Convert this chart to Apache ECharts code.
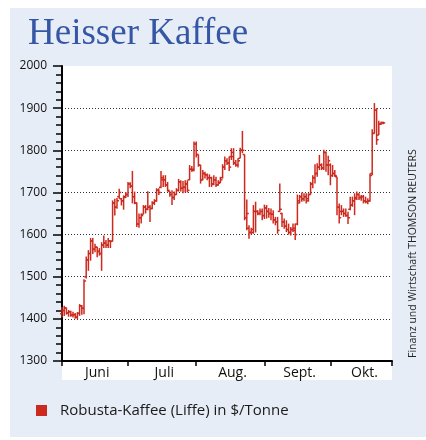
<!DOCTYPE html>
<html><head><meta charset="utf-8">
<script src="https://cdn.jsdelivr.net/npm/echarts@6/dist/echarts.min.js"></script>
<style>html,body{margin:0;padding:0;background:#fff}#c{width:426px;height:440px}</style>
</head><body><div id="c"></div>
<script>
// Day index 0 = 1 June; one bar per calendar day
var monthLabels = ['Juni','Juli','Aug.','Sept.','Okt.'];
var monthStarts = [0,30,61,92,122,150];
var monthMids = [16,46.5,77.5,108,137.5];
var yTicks = [1300,1400,1500,1600,1700,1800,1900,2000];

var openV = [1412,1420,1426,1414,1417,1409,1410,1404,1413,1431,1425,1500,1540,1555,1585,1565,1570,1560,1555,1575,1580,1575,1585,1584,1675,1665,1690,1685,1680,1690,1695,
1720,1715,1690,1675,1625,1640,1648,1665,1660,1665,1662,1675,1680,1705,1712,1730,1730,1718,1703,1695,1688,1695,1705,1725,1710,1712,1720,1730,1755,1755,
1815,1790,1765,1730,1745,1742,1735,1735,1720,1730,1718,1724,1735,1760,1775,1770,1785,1785,1770,1765,1781,1800,1790,1640,1615,1605,1605,1655,
1655,1650,1655,1645,1663,1655,1650,1648,1635,1630,1655,1650,1630,1620,1612,1605,1612,1610,1625,1680,1690,1685,1690,1685,1695,1720,1735,1745,1760,1765,1758,1795,
1765,1765,1740,1745,1737,1665,1655,1655,1650,1645,1660,1670,1680,1688,1695,1688,1690,1680,1678,1680,1745,1840,1895,1836,1862,1866];
var highV = [1428,1431,1427,1421,1419,1417,1414,1416,1435,1433,1494,1548,1563,1592,1592,1578,1571,1568,1582,1598,1587,1592,1586,1681,1685,1687,1709,1687,1693,1701,1725,
1724,1751,1702,1676,1650,1650,1670,1670,1703,1670,1679,1684,1710,1710,1751,1741,1741,1725,1703,1705,1702,1710,1732,1729,1727,1729,1729,1765,1763,1821,
1821,1790,1765,1753,1749,1745,1743,1737,1741,1737,1729,1737,1767,1785,1781,1785,1805,1805,1777,1781,1806,1846,1790,1683,1622,1616,1670,1678,
1658,1662,1662,1671,1670,1663,1662,1658,1642,1642,1721,1652,1638,1634,1626,1618,1626,1626,1695,1694,1700,1698,1698,1698,1725,1741,1767,1769,1789,1769,1801,1797,
1787,1769,1765,1753,1737,1674,1670,1662,1662,1654,1690,1690,1698,1702,1698,1694,1694,1690,1686,1745,1850,1912,1900,1870,1868,1868];
var lowV = [1403,1407,1410,1405,1405,1403,1400,1399,1407,1410,1411,1496,1514,1538,1554,1558,1546,1550,1514,1568,1568,1568,1568,1584,1645,1661,1685,1669,1659,1687,1689,
1710,1674,1672,1618,1616,1626,1648,1650,1658,1630,1660,1670,1678,1694,1710,1713,1713,1702,1690,1670,1682,1694,1702,1702,1698,1700,1700,1729,1749,1750,
1783,1761,1721,1729,1733,1729,1713,1713,1717,1713,1716,1722,1733,1753,1765,1751,1777,1765,1761,1759,1781,1793,1634,1610,1590,1600,1602,1605,
1646,1646,1634,1637,1638,1640,1634,1626,1622,1602,1654,1618,1614,1606,1600,1598,1606,1587,1622,1674,1678,1679,1674,1678,1695,1710,1721,1737,1753,1753,1753,1749,
1741,1717,1737,1737,1646,1626,1646,1642,1642,1625,1658,1666,1646,1682,1682,1680,1674,1674,1672,1678,1741,1840,1813,1836,1860,1862];
var closeV = [1420,1426,1414,1417,1409,1410,1404,1413,1431,1425,1490,1540,1555,1585,1565,1570,1560,1555,1575,1580,1575,1585,1584,1675,1665,1680,1700,1680,1688,1695,1720,
1715,1690,1675,1625,1640,1645,1665,1660,1665,1662,1675,1680,1705,1700,1735,1730,1718,1705,1695,1688,1695,1705,1725,1710,1712,1720,1705,1755,1752,1815,
1790,1765,1730,1745,1742,1735,1735,1720,1730,1718,1722,1730,1760,1775,1770,1760,1795,1770,1765,1775,1800,1800,1640,1650,1605,1612,1655,1655,
1650,1655,1645,1663,1655,1650,1648,1635,1630,1610,1660,1630,1620,1612,1605,1612,1615,1600,1675,1690,1685,1690,1680,1695,1720,1735,1745,1760,1765,1758,1795,1765,
1775,1740,1745,1740,1665,1640,1655,1650,1645,1640,1670,1680,1685,1695,1688,1690,1680,1678,1680,1740,1840,1895,1825,1862,1865,1865];

var seriesName = 'Robusta-Kaffee (Liffe) in $/Tonne';
var barColor = '#cc2a1f';
var data = openV.map(function(o,i){ return [i, o, highV[i], lowV[i], closeV[i]]; });

var labelByValue = {};
monthMids.forEach(function(v,i){ labelByValue[v] = monthLabels[i]; });

var sansFont = '"Open Sans", "Noto Sans", sans-serif';
var chart = echarts.init(document.getElementById('c'), null, {renderer:'canvas'});
chart.setOption({
  backgroundColor: '#ffffff',
  animation: false,
  title: {
    text: 'Heisser Kaffee', left: 23, top: 11,
    textStyle: {fontFamily: '"Liberation Serif", "DejaVu Serif", serif', fontSize: 37, fontWeight: 'normal', color: '#3456a4'}
  },
  legend: {
    left: 31, top: 398, icon: 'rect', itemWidth: 11, itemHeight: 11,
    data: [seriesName],
    textStyle: {fontFamily: sansFont, fontSize: 15, color: '#1a1a1a', padding: [0,0,0,8]}
  },
  graphic: [
    {type:'rect', z:-100, silent:true, shape:{x:10, y:8, width:416, height:429}, style:{fill:'#e7edf6'}},
    {type:'rect', z:-99, silent:true, shape:{x:62, y:66, width:330, height:314}, style:{fill:'#ffffff'}},
    {type:'text', x:413, y:358, rotation: Math.PI/2, silent:true,
     style:{text:'Finanz und Wirtschaft THOMSON REUTERS', fontFamily: sansFont, fontSize: 10.5, fill:'#222', align:'left', verticalAlign:'middle'}}
  ],
  grid: {left: 62, right: 34, top: 66, bottom: 79},
  xAxis: {
    type: 'value', min: 0, max: 150,
    axisLine: {show: true, onZero: false, lineStyle: {color: '#000', width: 2}},
    axisTick: {show: true, customValues: monthStarts, length: 5, lineStyle: {color: '#000', width: 1.5}},
    axisLabel: {customValues: monthMids, formatter: function(v){ return labelByValue[v] || ''; },
      color: '#111', fontFamily: sansFont, fontSize: 14, margin: 5},
    splitLine: {show: false}
  },
  yAxis: {
    type: 'value', min: yTicks[0], max: yTicks[yTicks.length-1], interval: 100,
    axisLine: {show: true, lineStyle: {color: '#000', width: 2}},
    axisTick: {show: true, length: 9, lineStyle: {color: '#000', width: 1.5}},
    minorTick: {show: true, splitNumber: 5, length: 6, lineStyle: {color: '#000', width: 1.5}},
    axisLabel: {color: '#111', fontFamily: sansFont, fontSize: 12, margin: 15,
      formatter: function(v){ return String(v); }},
    splitLine: {show: true, lineStyle: {type: [1,2], width: 1,
      color: ['rgba(0,0,0,0)','#333','#333','#333','#333','#333','#333','rgba(0,0,0,0)']}}
  },
  series: [{
    type: 'custom', name: seriesName,
    itemStyle: {color: barColor},
    encode: {x: 0, y: [1,2,3,4]},
    data: data,
    renderItem: function(params, api){
      var x = api.value(0);
      var o = api.coord([x, api.value(1)]);
      var h = api.coord([x, api.value(2)]);
      var l = api.coord([x, api.value(3)]);
      var c = api.coord([x, api.value(4)]);
      var w = 2;
      var st = {stroke: barColor, lineWidth: 1.5};
      return {type:'group', children:[
        {type:'line', shape:{x1:h[0], y1:h[1], x2:l[0], y2:l[1]}, style: st},
        {type:'line', shape:{x1:o[0]-w, y1:o[1], x2:o[0], y2:o[1]}, style: st},
        {type:'line', shape:{x1:c[0], y1:c[1], x2:c[0]+w, y2:c[1]}, style: st}
      ]};
    }
  }]
});
</script></body></html>
